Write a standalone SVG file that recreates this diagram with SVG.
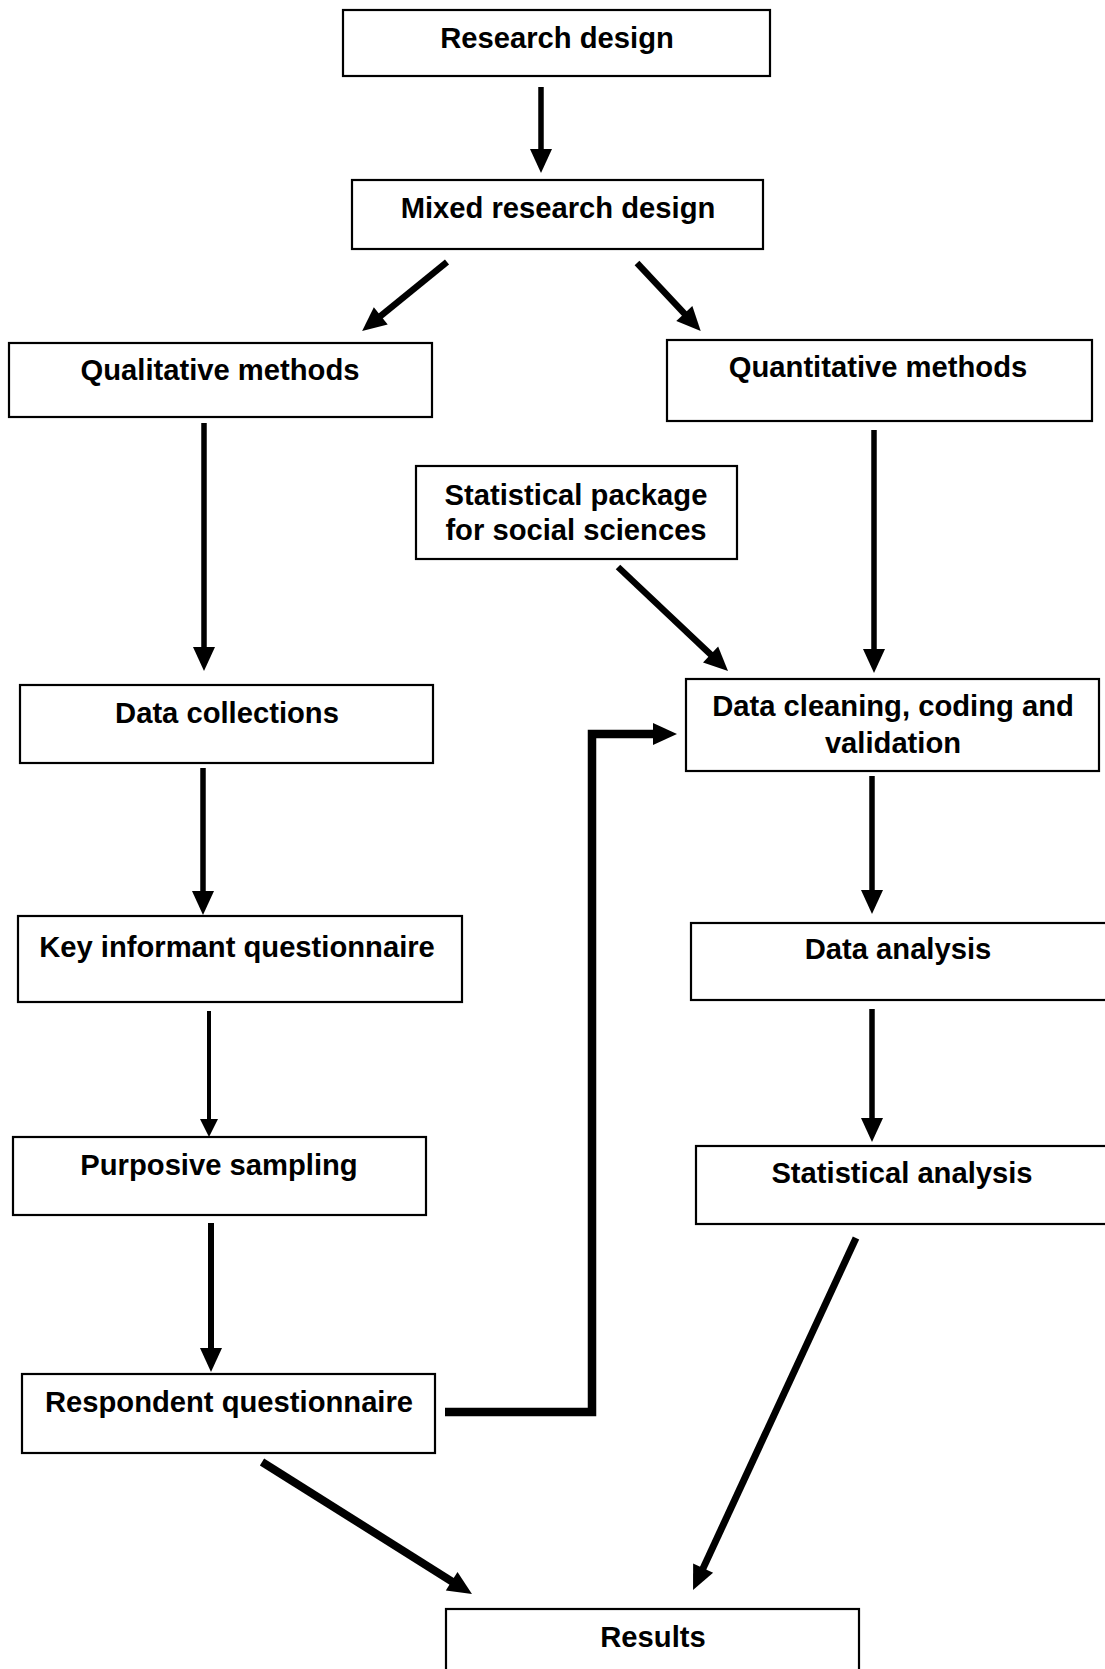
<svg xmlns="http://www.w3.org/2000/svg" width="1105" height="1669" viewBox="0 0 1105 1669">
<style>
.box{fill:#fff;stroke:#000;stroke-width:2.2}
.lbl{font-family:"Liberation Sans",Arial,sans-serif;font-weight:bold;font-size:29.2px;fill:#000;text-anchor:middle}
.ln{fill:none;stroke:#000;stroke-linecap:butt;stroke-linejoin:miter}
</style>
<defs>
<marker id="ah" markerUnits="userSpaceOnUse" markerWidth="24" markerHeight="22" refX="1" refY="11" orient="auto" overflow="visible">
<path d="M0,0 L24,11 L0,22 z" fill="#000"/>
</marker>
<marker id="ahs" markerUnits="userSpaceOnUse" markerWidth="18" markerHeight="18" refX="1" refY="9" orient="auto" overflow="visible">
<path d="M0,0 L18,9 L0,18 z" fill="#000"/>
</marker>
</defs>
<g id="connectors">
<line class="ln" x1="541" y1="87" x2="541" y2="150" stroke-width="5.5" marker-end="url(#ah)"/>
<line class="ln" x1="447" y1="262" x2="380" y2="316.5" stroke-width="6.5" marker-end="url(#ah)"/>
<line class="ln" x1="637" y1="263" x2="685" y2="314.3" stroke-width="6.5" marker-end="url(#ah)"/>
<line class="ln" x1="204" y1="423" x2="204" y2="648" stroke-width="5.5" marker-end="url(#ah)"/>
<line class="ln" x1="874" y1="430" x2="874" y2="650" stroke-width="5.5" marker-end="url(#ah)"/>
<line class="ln" x1="618" y1="567" x2="711.3" y2="655.2" stroke-width="6.5" marker-end="url(#ah)"/>
<line class="ln" x1="203" y1="768" x2="203" y2="892" stroke-width="5.5" marker-end="url(#ah)"/>
<line class="ln" x1="872" y1="776" x2="872" y2="891" stroke-width="5.5" marker-end="url(#ah)"/>
<line class="ln" x1="209" y1="1011" x2="209" y2="1120" stroke-width="4" marker-end="url(#ahs)"/>
<line class="ln" x1="872" y1="1009" x2="872" y2="1119" stroke-width="5.5" marker-end="url(#ah)"/>
<line class="ln" x1="211" y1="1223" x2="211" y2="1349" stroke-width="6" marker-end="url(#ah)"/>
<path class="ln" d="M445,1412 H592 V734 H654" stroke-width="8.5" marker-end="url(#ah)"/>
<line class="ln" x1="262" y1="1462" x2="452.5" y2="1581.8" stroke-width="8" marker-end="url(#ah)"/>
<line class="ln" x1="856" y1="1238" x2="702.7" y2="1569.1" stroke-width="7" marker-end="url(#ah)"/>
</g>
<g id="n-research"><rect class="box" x="343" y="10" width="427" height="66"/><text class="lbl" x="557" y="48">Research design</text></g>
<g id="n-mixed"><rect class="box" x="352" y="180" width="411" height="69"/><text class="lbl" x="558" y="218">Mixed research design</text></g>
<g id="n-qual"><rect class="box" x="9" y="343" width="423" height="74"/><text class="lbl" x="220" y="380">Qualitative methods</text></g>
<g id="n-quant"><rect class="box" x="667" y="340" width="425" height="81"/><text class="lbl" x="878" y="377">Quantitative methods</text></g>
<g id="n-spss"><rect class="box" x="416" y="466" width="321" height="93"/><text class="lbl" x="576" y="505">Statistical package</text><text class="lbl" x="576" y="540">for social sciences</text></g>
<g id="n-datacoll"><rect class="box" x="20" y="685" width="413" height="78"/><text class="lbl" x="227" y="723">Data collections</text></g>
<g id="n-clean"><rect class="box" x="686" y="679" width="413" height="92"/><text class="lbl" x="893" y="716">Data cleaning, coding and</text><text class="lbl" x="893" y="753">validation</text></g>
<g id="n-key"><rect class="box" x="18" y="916" width="444" height="86"/><text class="lbl" x="237" y="957">Key informant questionnaire</text></g>
<g id="n-analysis"><rect class="box" x="691" y="923" width="420" height="77"/><text class="lbl" x="898" y="959">Data analysis</text></g>
<g id="n-purposive"><rect class="box" x="13" y="1137" width="413" height="78"/><text class="lbl" x="219" y="1175">Purposive sampling</text></g>
<g id="n-statanal"><rect class="box" x="696" y="1146" width="414" height="78"/><text class="lbl" x="902" y="1183">Statistical analysis</text></g>
<g id="n-respondent"><rect class="box" x="22" y="1374" width="413" height="79"/><text class="lbl" x="229" y="1412">Respondent questionnaire</text></g>
<g id="n-results"><rect class="box" x="446" y="1609" width="413" height="70"/><text class="lbl" x="653" y="1647">Results</text></g>
</svg>
